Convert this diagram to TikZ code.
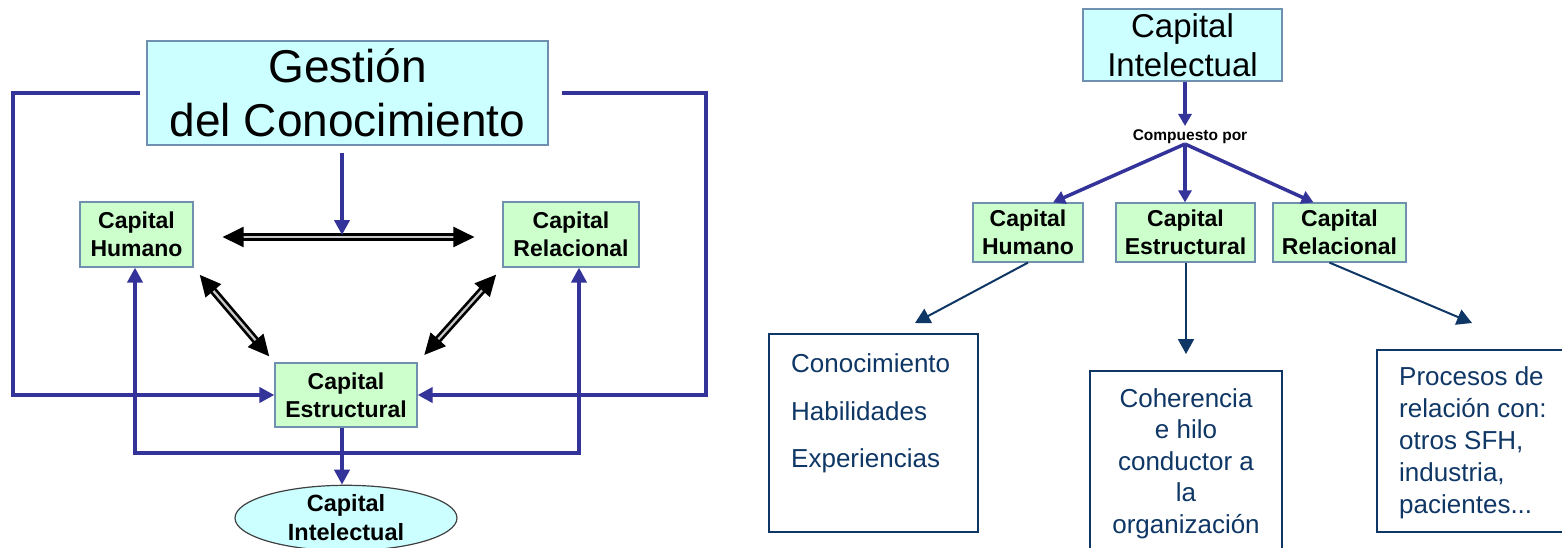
\documentclass[tikz,border=0pt]{standalone}
\usepackage{fontspec}
\setmainfont{Liberation Sans}
\usetikzlibrary{arrows.meta,shapes.geometric,calc}
\definecolor{cyanfill}{HTML}{CCFFFF}
\definecolor{greenfill}{HTML}{CCFFCC}
\definecolor{boxline}{HTML}{7090B0}
\definecolor{arrowblue}{HTML}{333399}
\definecolor{navy}{HTML}{0F3766}
\definecolor{dblinner}{HTML}{C8C8C8}
\begin{document}
\begin{tikzpicture}[x=1pt,y=-1pt,
  cbox/.style={draw=boxline, line width=1.3pt, fill=cyanfill, inner sep=0pt, align=center},
  gbox/.style={draw=boxline, line width=1.2pt, fill=greenfill, inner sep=0pt, align=center,
               font=\fontsize{23}{28}\selectfont\bfseries},
  barrow/.style={draw=arrowblue, line width=4.3pt, -{Triangle[length=15pt,width=15pt]}},
  fanarrow/.style={draw=arrowblue, line width=3.5pt, -{Triangle[length=12pt,width=13pt]}},
  dblarrow/.style={draw=black, line width=2.7pt, double=dblinner, double distance=2.2pt,
               {Triangle[length=21pt,width=20pt]}-{Triangle[length=21pt,width=20pt]}},
  narrow/.style={draw=navy, line width=2pt, -{Triangle[length=15pt,width=16pt]}},
  nbox/.style={draw=navy, line width=2.5pt, inner sep=0pt},
  ntext/.style={text=navy, inner sep=0pt, font=\fontsize{26}{31.5}\selectfont}
]
\useasboundingbox[fill=white] (0,0) rectangle (1562,547);

% ---------------- left diagram ----------------
\node[cbox, minimum width=401pt, minimum height=104pt, font=\fontsize{46}{54}\selectfont]
  (gc) at (347.5,93) {Gestión\\del Conocimiento};
\node[gbox, minimum width=113pt, minimum height=65pt] (hum) at (136.5,234.5) {Capital\\Humano};
\node[gbox, minimum width=136pt, minimum height=65pt] (rel) at (571,234.5) {Capital\\Relacional};
\node[gbox, minimum width=142pt, minimum height=64pt] (est) at (346,395) {Capital\\Estructural};
\node[ellipse, draw=black!75, line width=1.2pt, fill=cyanfill, minimum width=222pt,
      minimum height=64pt, inner sep=0pt, align=center, font=\fontsize{23.5}{29}\selectfont\bfseries]
  (ell) at (346,518) {Capital\\Intelectual};

\coordinate (gl) at (140,93);
\coordinate (lc) at (13,93);
\coordinate (gr) at (562,93);
\coordinate (rc) at (706,93);
\coordinate (dm) at (342,237);
\coordinate (bm) at (342,453);
\coordinate (bl) at (135,453);
\coordinate (br) at (579,453);

\draw[barrow, line join=miter] (gl) -- (lc) |- (est.west);
\draw[barrow, line join=miter] (gr) -- (rc) |- (est.east);

\draw[dblarrow, shorten <=29pt, shorten >=28pt] (hum.east |- dm) -- (rel.west |- dm);
\draw[dblarrow, shorten <=9.5pt, shorten >=8pt] (hum.south east) -- (est.north west);
\draw[dblarrow, shorten <=9.4pt, shorten >=10pt] (rel.south west) -- (est.north east);

\draw[barrow, shorten <=7pt, shorten >=2pt] (dm |- gc.south) -- (dm);

\draw[barrow, line join=miter] (bm) -| (bl |- hum.south);
\draw[barrow, line join=miter] (bm) -| (br |- rel.south);
\draw[barrow] (bm |- est.south) -- (bm |- ell.north);

% ---------------- right diagram ----------------
\node[cbox, minimum width=199pt, minimum height=72pt, font=\fontsize{33}{39}\selectfont]
  (ci) at (1182.5,45) {Capital\\Intelectual};
\node[inner sep=0pt, anchor=base, font=\fontsize{15.5}{18}\selectfont\bfseries]
  (cp) at (1190,140) {Compuesto por};
\coordinate (fan) at (1185,144);

\node[gbox, minimum width=110pt, minimum height=59pt] (h2) at (1028,232.5) {Capital\\Humano};
\node[gbox, minimum width=139pt, minimum height=59pt] (e2) at (1185.5,232.5) {Capital\\Estructural};
\node[gbox, minimum width=133pt, minimum height=59pt] (r2) at (1339.5,232.5) {Capital\\Relacional};

\draw[fanarrow, shorten >=3pt] (fan |- ci.south) -- (fan |- cp.north);
\draw[fanarrow] (fan) -- ([xshift=25pt]h2.north);
\draw[fanarrow] (fan) -- (fan |- e2.north);
\draw[fanarrow] (fan) -- ([xshift=-26pt]r2.north);

\node[nbox, minimum width=209pt, minimum height=198pt] (b1) at (873.5,433) {};
\node[nbox, minimum width=192pt, minimum height=190pt] (b2) at (1186,466) {};
\node[nbox, minimum width=203pt, minimum height=182pt] (b3) at (1478.5,441) {};

\node[ntext, anchor=north west, align=left, font=\fontsize{26}{47.5}\selectfont]
  (b1t) at (791,353.5) {Conocimiento\\Habilidades\\Experiencias};
\node[ntext, anchor=north, align=center] (b2t) at (1186,388)
  {Coherencia\\e hilo\\conductor a\\la\\organización};
\node[ntext, anchor=north west, align=left, font=\fontsize{26}{32}\selectfont] (b3t) at (1399,366)
  {Procesos de\\relación con:\\otros SFH,\\industria,\\pacientes...};

\coordinate (t1) at (915,323);
\coordinate (t2) at (1186,354);
\coordinate (t3) at (1472,323);
\draw[narrow] (h2.south) -- (t1);
\draw[narrow] (t2 |- e2.south) -- (t2);
\draw[narrow] ([xshift=-10pt]r2.south) -- (t3);
\end{tikzpicture}
\end{document}
